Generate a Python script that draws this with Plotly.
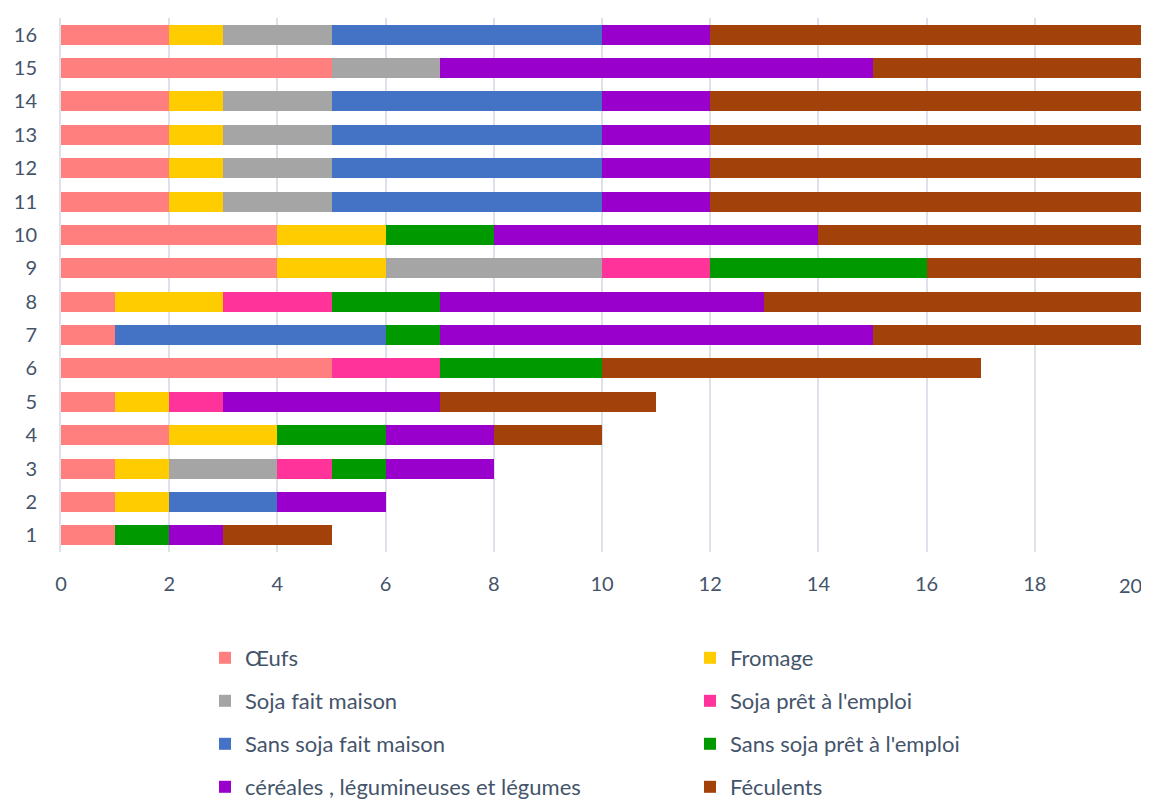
import plotly.graph_objects as go

# rows 1..16 (bottom to top)
rows = [str(i) for i in range(1, 17)]

oeufs = [1, 1, 1, 2, 1, 5, 1, 1, 4, 4, 2, 2, 2, 2, 5, 2]
fromage = [0, 1, 1, 2, 1, 0, 0, 2, 2, 2, 1, 1, 1, 1, 0, 1]
soja_maison = [0, 0, 2, 0, 0, 0, 0, 0, 4, 0, 2, 2, 2, 2, 2, 2]
soja_pret = [0, 0, 1, 0, 1, 2, 0, 2, 2, 0, 0, 0, 0, 0, 0, 0]
sans_soja_maison = [0, 2, 0, 0, 0, 0, 5, 0, 0, 0, 5, 5, 5, 5, 0, 5]
sans_soja_pret = [1, 0, 1, 2, 0, 3, 1, 2, 4, 2, 0, 0, 0, 0, 0, 0]
cereales = [1, 2, 2, 2, 4, 0, 8, 6, 0, 6, 2, 2, 2, 2, 8, 2]
feculents = [2, 0, 0, 2, 4, 7, 5, 7, 4, 6, 8, 8, 8, 8, 5, 8]

x_ticks = [0, 2, 4, 6, 8, 10, 12, 14, 16, 18, 20]

series = [
    ("Œufs", oeufs, "#ff7f7f"),
    ("Fromage", fromage, "#ffcc00"),
    ("Soja fait maison", soja_maison, "#a5a5a5"),
    ("Soja prêt à l'emploi", soja_pret, "#ff3399"),
    ("Sans soja fait maison", sans_soja_maison, "#4472c4"),
    ("Sans soja prêt à l'emploi", sans_soja_pret, "#009900"),
    ("céréales , légumineuses et légumes", cereales, "#9900cc"),
    ("Féculents", feculents, "#a3410b"),
]

TXT = "#44546a"
FONT = "Lato, 'Open Sans', sans-serif"

# the page body has an 8px margin, so the figure is sized to fill the rest
W, H = 1141, 795
L, R, T, B = 53, 6, 10, 251
pw, ph = W - L - R, H - T - B

def px_to_paper(px, py):
    # figure pixel coords -> paper coords
    return (px - L) / pw, (H - B - py) / ph

fig = go.Figure()
legend_layout = {}
for i, (name, vals, color) in enumerate(series):
    key = "legend" if i == 0 else f"legend{i + 1}"
    fig.add_trace(go.Bar(
        y=rows, x=vals, name=name, orientation="h",
        marker=dict(color=color, line=dict(width=0)),
        legend=key, showlegend=True,
    ))
    col, row = i % 2, i // 2
    lx, ly = px_to_paper(197 + col * 485, 650 + row * 43)
    legend_layout[key] = dict(
        x=lx, y=ly, xanchor="left", yanchor="middle",
        font=dict(family=FONT, size=22, color=TXT),
        bgcolor="rgba(0,0,0,0)", borderwidth=0,
        itemwidth=30,
    )

# last x tick label sits right at the page edge
fig.add_annotation(
    x=1 + (R - 5) / pw, y=0, xref="paper", yref="paper", yshift=-33,
    text=str(x_ticks[-1]), showarrow=False,
    font=dict(family=FONT, size=20, color=TXT),
    xanchor="right", yanchor="middle",
)

fig.update_layout(
    barmode="stack",
    bargap=0.4,
    width=W, height=H,
    showlegend=True,
    paper_bgcolor="white",
    plot_bgcolor="white",
    margin=dict(l=L, r=R, t=T, b=B, autoexpand=False),
    font=dict(family=FONT, size=20, color=TXT),
    xaxis=dict(
        range=[0, 20],
        tickvals=x_ticks[:-1],
        showgrid=True,
        gridcolor="#dde1e9",
        gridwidth=2,
        zeroline=False,
        automargin=False,
        ticks="outside", ticklen=14, tickcolor="rgba(0,0,0,0)",
        tickfont=dict(size=20, color=TXT),
    ),
    yaxis=dict(
        range=[-0.5, 15.5],
        type="category",
        showgrid=False,
        automargin=False,
        showline=True, linecolor="#dde1e9", linewidth=2,
        ticks="outside", ticklen=18, tickcolor="rgba(0,0,0,0)",
        tickfont=dict(size=20, color=TXT),
    ),
    **legend_layout,
)

fig.write_html("out.html")
